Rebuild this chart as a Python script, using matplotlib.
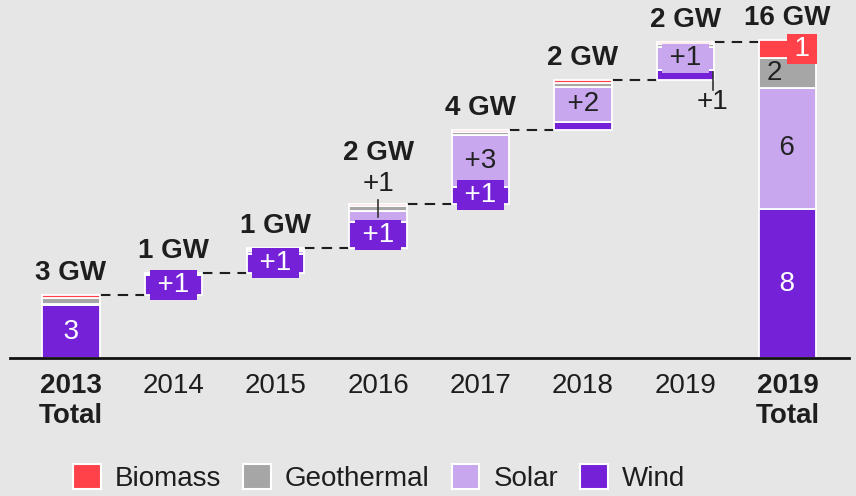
import matplotlib
matplotlib.use("Agg")
import matplotlib.pyplot as plt
from matplotlib.patches import Patch

plt.rcParams['font.family'] = ['Liberation Sans', 'DejaVu Sans']

categories = ['2013\nTotal', '2014', '2015', '2016', '2017', '2018', '2019', '2019\nTotal']
sources = ['Wind', 'Solar', 'Geothermal', 'Biomass']
wind = [2.72, 1.05, 1.00, 1.32, 0.88, 0.42, 0.50, 7.68]
solar = [0.06, 0.04, 0.15, 0.60, 2.65, 1.80, 1.22, 6.24]
geothermal = [0.30, 0.02, 0.09, 0.22, 0.18, 0.18, 0.12, 1.55]
biomass = [0.17, 0.02, 0.05, 0.13, 0.10, 0.18, 0.12, 0.93]
total_labels = ['3 GW', '1 GW', '1 GW', '2 GW', '4 GW', '2 GW', '2 GW', '16 GW']

series = {'Wind': wind, 'Solar': solar, 'Geothermal': geothermal, 'Biomass': biomass}
colors = {'Wind': '#7421d8', 'Solar': '#c8a7ef', 'Geothermal': '#a6a6a6', 'Biomass': '#ff424a'}
textcol = {'Wind': 'white', 'Solar': '#222222', 'Geothermal': '#222222', 'Biomass': 'white'}
BG = '#e6e6e6'
DARK = '#1e1e1e'
FS = 20
TS = '\u2009'

W, H = 856, 496
fig = plt.figure(figsize=(W / 100, H / 100), dpi=100, facecolor=BG)
ax = fig.add_axes([9.6 / W, 138 / H, (849 - 9.6) / W, 358 / H], facecolor=BG)
ax.set_xlim(-0.6, 7.6)
ax.set_ylim(0, 358 / 19.4)

n = len(categories)
bw = 0.56
totals = [sum(series[s][i] for s in sources) for i in range(n)]
bases = []
cum = 0.0
for i in range(n):
    if i == 0 or i == n - 1:
        bases.append(0.0)
    else:
        bases.append(cum)
    if i == 0:
        cum = totals[0]
    elif i < n - 1:
        cum += totals[i]

tops = [bases[i] + totals[i] for i in range(n)]

def rnd(v):
    return int(v + 0.5)

# small label nudges on the total bar so labels do not collide
nudge = {(n - 1, 'Biomass'): 0.14, (n - 1, 'Geothermal'): -0.13}

label_top = {}
for i in range(n):
    b = bases[i]
    for s in sources:
        v = series[s][i]
        ax.bar(i, v, bottom=b, width=bw, color=colors[s], edgecolor='white',
               linewidth=1.3, zorder=2)
        r = rnd(v)
        if r > 0:
            txt = str(r) if (i == 0 or i == n - 1) else '+%d' % r
            bbox = dict(boxstyle='square,pad=0.07', facecolor=colors[s], edgecolor='none')
            if v >= 0.8:
                dx = nudge.get((i, s), 0.0)
                if s == 'Geothermal' and i == n - 1:
                    ax.text(i + dx, b + v / 2, txt, ha='center', va='center',
                            fontsize=FS, color=textcol[s], zorder=4)
                else:
                    ax.text(i + dx, b + v / 2, TS + txt + TS, ha='center', va='center',
                            fontsize=FS, color=textcol[s], bbox=bbox, zorder=4)
            elif s == 'Wind':
                xl = i + 0.27
                ax.plot([xl, xl], [b + v * 0.8, b - 0.5], color='#333333', lw=1.2, zorder=5)
                ax.text(xl, b - 1.15, txt, ha='center', va='center', fontsize=FS,
                        color=DARK, zorder=4)
            else:
                ax.plot([i, i], [b + v / 2, tops[i] + 0.22], color='#333333', lw=1.2, zorder=5)
                ax.text(i, tops[i] + 1.05, txt, ha='center', va='center', fontsize=FS,
                        color=DARK, zorder=4)
                label_top[i] = tops[i] + 1.05
        b += v

for i in range(n):
    y = label_top[i] + 1.6 if i in label_top else tops[i] + 1.15
    ax.text(i, y, total_labels[i], ha='center', va='center', fontsize=FS,
            fontweight='bold', color=DARK, zorder=4)

for i in range(n - 1):
    ax.plot([i + bw / 2, i + 1 - bw / 2], [tops[i], tops[i]], color=DARK, lw=1.5,
            dashes=(5, 3.5), zorder=1)

for sp in ['top', 'right', 'left']:
    ax.spines[sp].set_visible(False)
ax.spines['bottom'].set_linewidth(2)
ax.spines['bottom'].set_color('#111111')
ax.set_yticks([])
ax.set_xticks(range(n))
ax.set_xticklabels(categories, fontsize=FS, color=DARK, linespacing=1.2)
for k, lab in enumerate(ax.get_xticklabels()):
    if k in (0, n - 1):
        lab.set_fontweight('bold')
ax.tick_params(axis='x', length=0, pad=11)

order = ['Biomass', 'Geothermal', 'Solar', 'Wind']
handles = [Patch(facecolor=colors[s], edgecolor='white', linewidth=1.5) for s in order]
fig.legend(handles, order, loc='center', bbox_to_anchor=(379 / W, 1 - 478 / H), ncol=4,
           frameon=False, fontsize=FS, handlelength=1.0, handleheight=1.0,
           columnspacing=0.8, handletextpad=0.5, labelcolor=DARK)

fig.savefig('out.png', dpi=100, facecolor=BG)
